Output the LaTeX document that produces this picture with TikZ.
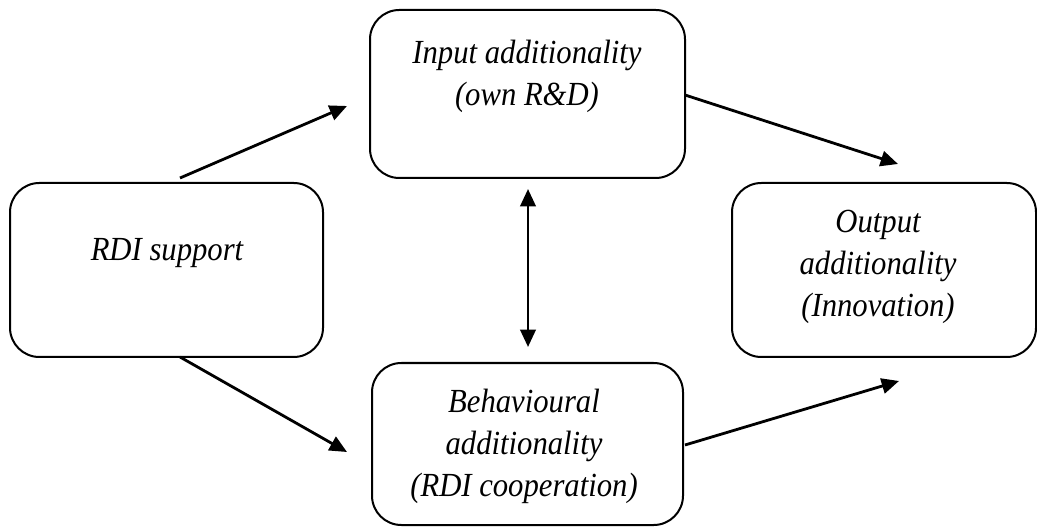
\documentclass[tikz,border=0pt]{standalone}
\usepackage{fontspec}
\setmainfont{Liberation Serif}
\usetikzlibrary{arrows.meta}
\newcommand{\stretchtext}[1]{\scalebox{1}[1.1]{\begin{tabular}{@{}c@{}}#1\end{tabular}}}
\tikzset{
  box/.style={draw=black, line width=1.5pt, rounded corners=22pt, inner sep=0pt, minimum width=#1},
  lbl/.style={align=center, inner sep=0pt, font=\fontsize{23pt}{28.6pt}\selectfont\itshape},
  conn/.style={line width=2.1pt, -{Triangle[length=13pt, width=11.5pt]}},
  biconn/.style={line width=2.1pt, {Triangle[length=13pt, width=11.5pt]}-{Triangle[length=13pt, width=11.5pt]}}
}
\begin{document}
\begin{tikzpicture}[x=0.75pt, y=-0.75pt]
\useasboundingbox (0,0) rectangle (1037,530);
% boxes
\node[box=236.25pt, minimum height=126pt] (inp) at (527.5,94) {};
\node[box=234.75pt, minimum height=130.5pt] (rdi) at (166.5,270) {};
\node[box=228pt, minimum height=130.5pt] (out) at (884,270) {};
\node[box=233.25pt, minimum height=121.5pt] (beh) at (527.5,444) {};
% texts
\node[lbl] (tinp) at (527,76) {\stretchtext{Input additionality\\(own R\&D)}};
\node[lbl] (trdi) at (167,252) {\stretchtext{RDI support}};
\node[lbl] (tout) at (878,266) {\stretchtext{Output\\additionality\\(Innovation)}};
\node[lbl] (tbeh) at (524,446) {\stretchtext{Behavioural\\additionality\\(RDI cooperation)}};
% connector ends
\coordinate (a1s) at (180,178);
\coordinate (a1e) at (347,106);
\coordinate (a2s) at (180,357);
\coordinate (a2e) at (347,452);
\coordinate (a3s) at (685,95);
\coordinate (a3e) at (898,164);
\coordinate (a4s) at (685,445);
\coordinate (a4e) at (899,381);
\coordinate (a5s) at (528,189);
\coordinate (a5e) at (528,347);
% connectors
\draw[conn] (a1s) -- (a1e);
\draw[conn] (a2s) -- (a2e);
\draw[conn] (a3s) -- (a3e);
\draw[conn] (a4s) -- (a4e);
\draw[biconn] (a5s) -- (a5e);
\end{tikzpicture}
\end{document}
